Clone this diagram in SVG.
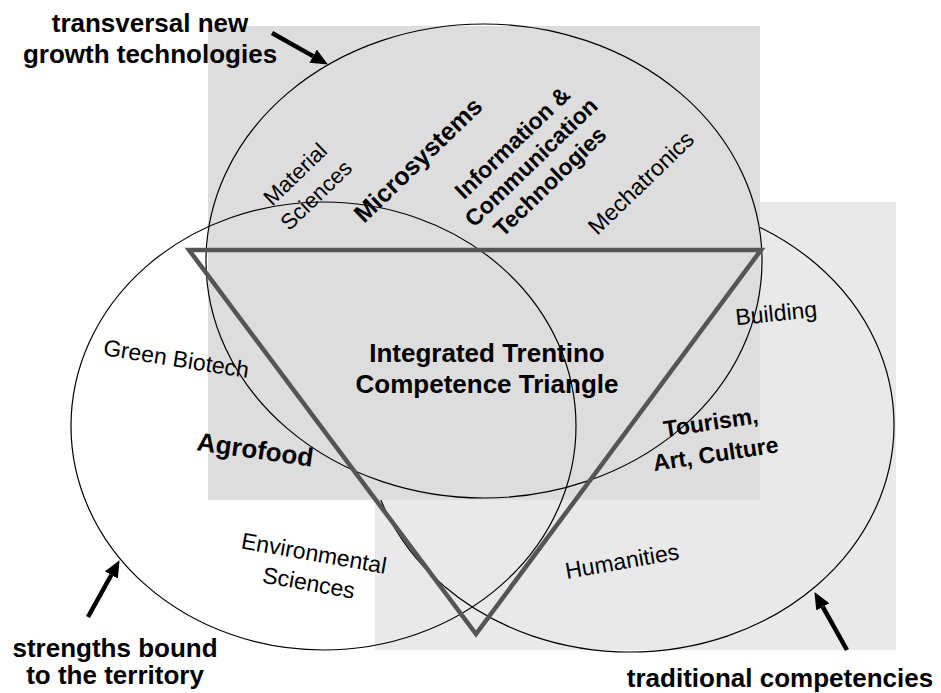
<svg xmlns="http://www.w3.org/2000/svg" width="941" height="693" viewBox="0 0 941 693">
<defs>
<style>
text{font-family:"Liberation Sans",Arial,sans-serif;fill:#000}
.b{font-weight:bold}
.lb{font-size:26px;font-weight:bold}
.n{font-size:23px}
.ring{fill:none;stroke:#000;stroke-width:1.2}
.tri{fill:none;stroke:#555;stroke-width:4.5;stroke-linejoin:miter}
.arr{stroke:#000;stroke-width:4.5;fill:none}
</style>
<marker id="ah" viewBox="0 0 17 15" refX="0" refY="7.5" markerWidth="17" markerHeight="15" markerUnits="userSpaceOnUse" orient="auto">
<path d="M0,0 L17,7.5 L0,15 z" fill="#000"/>
</marker>
</defs>
<rect x="0" y="0" width="941" height="693" fill="#fff"/>
<rect id="bg-traditional" x="375" y="202" width="521" height="448" fill="#e9e9e9"/>
<g id="traditional-circle"><ellipse class="ring" cx="630" cy="425" rx="264" ry="227"/></g>
<rect id="bg-transversal" x="208" y="26" width="552" height="474" fill="#dddddd"/>
<g id="transversal-circle"><ellipse class="ring" cx="484" cy="261" rx="278" ry="237"/></g>
<g id="territory-circle"><ellipse class="ring" cx="323.5" cy="426" rx="252.5" ry="224"/></g>
<g id="triangle"><polygon class="tri" points="189,250 761,250 476,634"/></g>

<g id="label-transversal">
<text class="lb" text-anchor="middle" x="150" y="32">transversal new</text>
<text class="lb" text-anchor="middle" x="150" y="63">growth technologies</text>
</g>
<g id="label-territory">
<text class="lb" text-anchor="middle" x="115" y="657">strengths bound</text>
<text class="lb" text-anchor="middle" x="115" y="684">to the territory</text>
</g>
<g id="label-traditional">
<text class="lb" text-anchor="middle" x="780" y="687">traditional competencies</text>
</g>
<g id="center">
<text class="lb" text-anchor="middle" x="487" y="362">Integrated Trentino</text>
<text class="lb" text-anchor="middle" x="487" y="393">Competence Triangle</text>
</g>
<g id="material">
<text class="n" style="font-size:22px" text-anchor="middle" transform="translate(300.4,179.5) rotate(-44)">Material</text>
<text class="n" style="font-size:22px" text-anchor="middle" transform="translate(321.4,200.5) rotate(-44)">Sciences</text>
</g>
<g id="microsystems">
<text class="b" style="font-size:25px" text-anchor="middle" transform="translate(424,166) rotate(-44)">Microsystems</text>
</g>
<g id="ict">
<text class="b" style="font-size:23px" text-anchor="middle" transform="translate(536.6,167.8) rotate(-44)"><tspan x="0" y="-27">Information &amp;</tspan><tspan x="0" y="0">Communication</tspan><tspan x="0" y="27">Technologies</tspan></text>
</g>
<g id="mechatronics">
<text class="n" text-anchor="middle" transform="translate(646.4,188.5) rotate(-44)">Mechatronics</text>
</g>
<g id="green-biotech">
<text class="n" text-anchor="middle" transform="translate(175,366.5) rotate(9)">Green Biotech</text>
</g>
<g id="agrofood">
<text class="b" style="font-size:26px" text-anchor="middle" transform="translate(254,458.5) rotate(8)">Agrofood</text>
</g>
<g id="building">
<text class="n" text-anchor="middle" transform="translate(777,321) rotate(-6)">Building</text>
</g>
<g id="tourism">
<text class="b" style="font-size:23px" text-anchor="middle" transform="translate(712,430) rotate(-8.6)"><tspan x="0" y="0">Tourism,</tspan><tspan x="0" y="32">Art, Culture</tspan></text>
</g>
<g id="environmental">
<text class="n" text-anchor="middle" transform="translate(312.6,561) rotate(10)"><tspan x="0" y="0">Environmental</tspan><tspan x="0" y="30">Sciences</tspan></text>
</g>
<g id="humanities">
<text class="n" text-anchor="middle" transform="translate(623.4,569) rotate(-10)">Humanities</text>
</g>

<g id="connectors">
<line class="arr" x1="272" y1="33" x2="313.1" y2="56.1" marker-end="url(#ah)"/>
<line class="arr" x1="88" y1="617" x2="111.3" y2="575" marker-end="url(#ah)"/>
<line class="arr" x1="847" y1="650" x2="822.8" y2="606.9" marker-end="url(#ah)"/>
</g>
</svg>
